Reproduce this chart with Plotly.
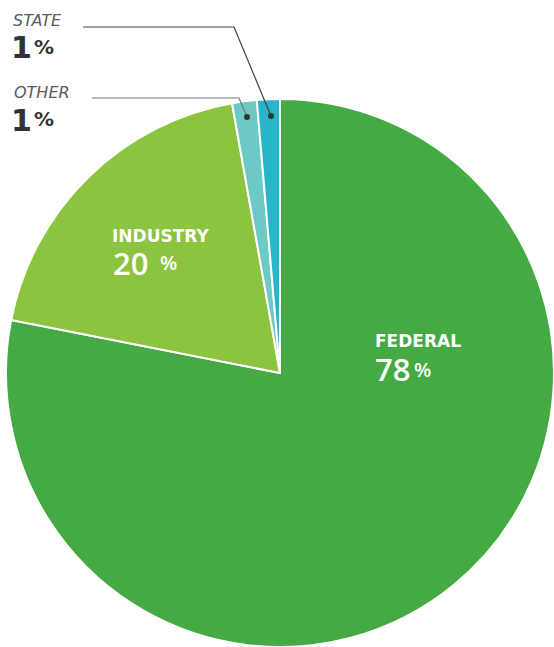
import plotly.graph_objects as go

W, H = 554, 647

labels = ["FEDERAL", "INDUSTRY", "OTHER", "STATE"]
values = [78.1, 19.1, 1.45, 1.35]
pct_text = ["78", "20", "1", "1"]
colors = ["#46AA44", "#8DC43F", "#6CC9C6", "#29B5C9"]

def px(x):
    return x / W

def py(y):
    return 1 - y / H

fig = go.Figure(go.Pie(
    labels=labels, values=values, sort=False, direction="clockwise", rotation=0,
    marker=dict(colors=colors, line=dict(color="white", width=2)),
    textinfo="none", hoverinfo="label+percent", showlegend=False,
    domain=dict(x=[px(6), 1], y=[py(647), py(99)]),
))

font = "DejaVu Sans, sans-serif"
font2 = "Open Sans, sans-serif"
ann = []

def add(text, x, y, size, color, weight="normal", style="normal", family=font):
    ann.append(dict(x=px(x), y=py(y), xref="paper", yref="paper", xanchor="left", yanchor="middle",
                    showarrow=False, text=text, borderpad=0,
                    font=dict(family=family, size=size, color=color, weight=weight, style=style)))

# inside labels
add(labels[0], 374, 341, 17, "white", weight="bold")
add(pct_text[0], 374, 369, 31, "white", weight=600, family=font2)
add("%", 413, 369, 20, "white", weight=600, family=font2)
add(labels[1], 111, 236, 17, "white", weight="bold")
add(pct_text[1], 112, 263, 31, "white", weight=600, family=font2)
add("%", 159, 262, 20, "white", weight=600, family=font2)

# outside labels
add(labels[3], 12, 21, 16, "#5a5a5a", style="italic")
add(pct_text[3], 10, 48, 30, "#333333", weight="bold")
add("%", 33, 47, 20, "#333333", weight="bold")
add(labels[2], 13, 93, 16, "#5a5a5a", style="italic")
add(pct_text[2], 10, 120, 30, "#333333", weight="bold")
add("%", 33, 119, 20, "#333333", weight="bold")

shapes = []
for pts, col in [([(83, 27), (234, 27), (271, 116)], "#444444"),
                 ([(92, 98), (239, 98), (247, 117)], "#777777")]:
    path = "M " + " L ".join(f"{px(x)},{py(y)}" for x, y in pts)
    shapes.append(dict(type="path", path=path, xref="paper", yref="paper",
                       line=dict(color=col, width=1.2)))
    ex, ey = pts[-1]
    shapes.append(dict(type="circle", xref="paper", yref="paper",
                       x0=px(ex - 3), x1=px(ex + 3), y0=py(ey + 3), y1=py(ey - 3),
                       fillcolor="#333333", line=dict(width=0)))

fig.update_layout(width=W, height=H, margin=dict(l=0, r=0, t=0, b=0),
                  paper_bgcolor="white", plot_bgcolor="white",
                  annotations=ann, shapes=shapes)
fig.write_html("out.html")
